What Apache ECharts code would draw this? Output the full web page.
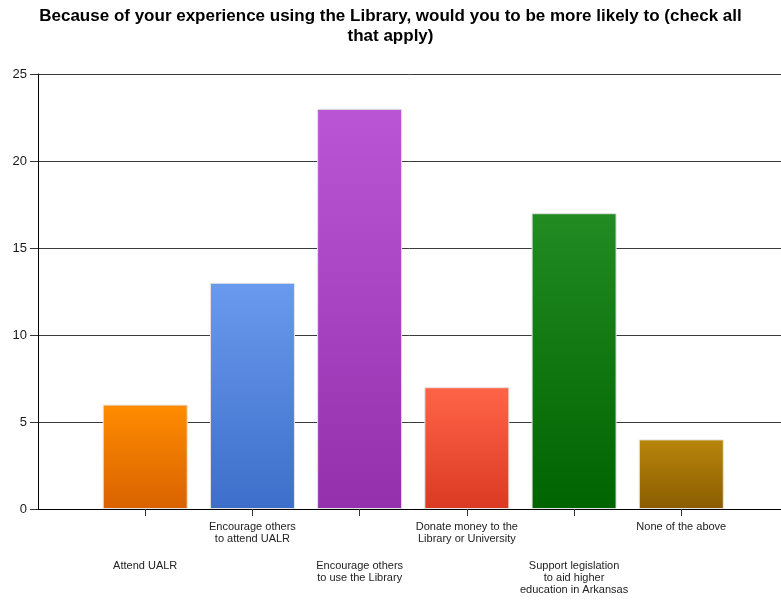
<!DOCTYPE html>
<html>
<head>
<meta charset="utf-8">
<style>html,body{margin:0;padding:0;background:#fff;}#c{width:781px;height:600px;}</style>
<script src="https://cdn.jsdelivr.net/npm/echarts@6/dist/echarts.min.js"></script>
</head>
<body>
<div id="c"></div>
<script>
var categories = [
  'Attend UALR',
  'Encourage others\nto attend UALR',
  'Encourage others\nto use the Library',
  'Donate money to the\nLibrary or University',
  'Support legislation\nto aid higher\neducation in Arkansas',
  'None of the above'
];
var values = [6, 13, 23, 7, 17, 4];
var yTicks = [0, 5, 10, 15, 20, 25];

var topColors = ['#FF8C00', '#6A9AEE', '#BA55D5', '#FF6448', '#228B22', '#B8860B'];
var bottomColors = ['#D96200', '#3D6EC9', '#9530AC', '#DA3A22', '#006400', '#8A5C00'];

var chart = echarts.init(document.getElementById('c'), null, {renderer: 'canvas'});
var fontFam = '"Liberation Sans", Arial, sans-serif';

var data = values.map(function (v, i) {
  return {
    value: [i + 1, v],
    itemStyle: {
      color: new echarts.graphic.LinearGradient(0, 0, 0, 1, [
        {offset: 0, color: topColors[i]},
        {offset: 1, color: bottomColors[i]}
      ]),
      borderColor: '#e4e4e4',
      borderWidth: 1
    }
  };
});

chart.setOption({
  animation: false,
  title: {
    text: 'Because of your experience using the Library, would you to be more likely to (check all\nthat apply)',
    left: 'center',
    top: 1,
    textStyle: {fontFamily: fontFam, fontWeight: 'bold', fontSize: 17, color: '#000', lineHeight: 20}
  },
  grid: {left: 38, right: 0, top: 74, bottom: 91, containLabel: false},
  xAxis: {
    type: 'value',
    min: 0,
    max: 6.93,
    interval: 1,
    splitLine: {show: false},
    axisLine: {show: true, lineStyle: {color: '#000', width: 1}},
    axisTick: {show: true, length: 7, lineStyle: {color: '#333'}},
    axisLabel: {
      showMaxLabel: false,
      showMinLabel: false,
      margin: 12,
      fontFamily: fontFam,
      fontSize: 11,
      color: '#222',
      formatter: function (v) {
        var i = Math.round(v) - 1;
        if (i < 0 || i >= categories.length || Math.abs(v - Math.round(v)) > 1e-6) return '';
        var lines = categories[i].split('\n').map(function (s) { return '{n|' + s + '}'; }).join('\n');
        if (i % 2 === 0) return '{sp| }\n' + lines;
        return lines;
      },
      rich: {
        n: {fontFamily: fontFam, fontSize: 11, lineHeight: 12, color: '#222'},
        sp: {fontSize: 11, lineHeight: 39}
      }
    }
  },
  yAxis: {
    type: 'value',
    min: yTicks[0],
    max: yTicks[yTicks.length - 1],
    interval: 5,
    axisLine: {show: true, lineStyle: {color: '#000', width: 1}},
    axisTick: {show: true, length: 8, lineStyle: {color: '#333'}},
    axisLabel: {fontFamily: fontFam, fontSize: 13, color: '#1a1a1a', margin: 11},
    splitLine: {show: true, lineStyle: {color: '#3a3a3a', width: 1}}
  },
  series: [{
    type: 'bar',
    barWidth: 85,
    data: data
  }]
});
</script>
</body>
</html>
